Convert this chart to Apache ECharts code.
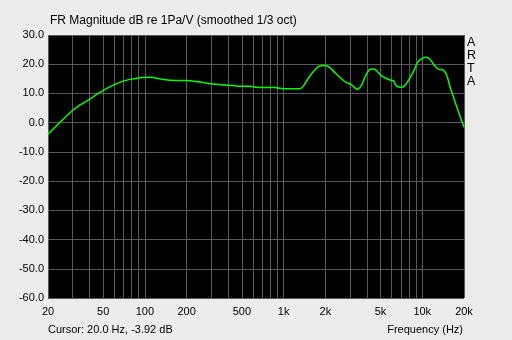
<!DOCTYPE html>
<html><head><meta charset="utf-8">
<script src="https://cdn.jsdelivr.net/npm/echarts@6/dist/echarts.min.js"></script>
<style>html,body{margin:0;padding:0;background:#ececec;}#c{width:512px;height:340px;}</style>
</head><body><div id="c"></div>
<script>
const freqs = [20, 24.4, 29.9, 33.1, 39.1, 46.1, 54.4, 60.9, 70.6, 80, 92, 109, 132, 152, 200, 249, 310, 389, 485, 572, 640, 867, 1024, 1313, 1387, 1507, 1637, 1779, 1990, 2160, 2348, 2773, 3100, 3398, 3660, 3864, 4200, 4485, 5095, 5850, 6200, 6540, 7110, 7720, 8620, 9360, 10470, 11370, 12150, 13060, 14190, 15000, 15850, 16750, 17700, 20000];
const magDb = [-3.92, 0.1, 4.1, 5.7, 7.75, 10.0, 12.0, 13.1, 14.3, 14.9, 15.4, 15.5, 14.9, 14.5, 14.4, 13.9, 13.2, 12.9, 12.5, 12.5, 12.1, 12.0, 11.6, 11.6, 12.5, 15.2, 17.4, 19.2, 19.6, 18.8, 17.1, 14.0, 12.9, 11.4, 12.9, 15.7, 18.3, 18.4, 16.0, 14.6, 14.3, 12.5, 12.1, 13.5, 17.4, 20.9, 22.4, 21.7, 19.7, 18.3, 18.0, 16.3, 12.3, 8.9, 5.5, -1.6];
const gridFreqs = [20,30,40,50,60,70,80,90,100,200,300,400,500,600,700,800,900,1000,2000,3000,4000,5000,6000,7000,8000,9000,10000,20000];
const xLabelFreqs = [20,50,100,200,500,1000,2000,5000,10000,20000];
const yTicks = [-60,-50,-40,-30,-20,-10,0,10,20,30];

const chart = echarts.init(document.getElementById('c'), null, {renderer:'canvas'});
const font = '"Liberation Sans", Arial, sans-serif';
const data = freqs.map((f,i)=>[f, magDb[i]]);
chart.setOption({
  backgroundColor:'#ececec',
  animation:false,
  textStyle:{fontFamily:font},
  title:{text:'FR Magnitude dB re 1Pa/V (smoothed 1/3 oct)', left:45, top:15, padding:[0,0,0,5],
    textStyle:{fontSize:12, fontWeight:'normal', color:'#000', fontFamily:font}},
  graphic:[
    {type:'text', left:467, top:36, style:{text:'A\nR\nT\nA', font:'12.5px '+font, fill:'#000', lineHeight:13, align:'center'}},
    {type:'text', left:48, top:324, style:{text:'Cursor: 20.0 Hz, -3.92 dB', font:'11px '+font, fill:'#000'}},
    {type:'text', right:49, top:324, style:{text:'Frequency (Hz)', font:'11px '+font, fill:'#000'}}
  ],
  grid:{left:48, right:48, top:35, bottom:42, show:true, backgroundColor:'#000', borderWidth:0},
  xAxis:{type:'log', logBase:10, min:20, max:20000,
    axisLine:{show:false},
    axisTick:{show:false, customValues:gridFreqs},
    splitLine:{show:true, lineStyle:{color:'#5a5a5a', width:1}},
    axisLabel:{customValues:xLabelFreqs, color:'#000', fontSize:11, margin:8, fontFamily:font,
      formatter:v=> v>=1000 ? (v/1000)+'k' : String(v)}
  },
  yAxis:{type:'value', min:-60, max:30, interval:10,
    axisLine:{show:false}, axisTick:{show:false},
    splitLine:{show:true, lineStyle:{color:'#5a5a5a', width:1}},
    axisLabel:{color:'#000', fontSize:11, margin:4, fontFamily:font, formatter:v=>v.toFixed(1)}
  },
  series:[{type:'line', data:data, smooth:0.25, showSymbol:false, symbol:'none',
    lineStyle:{color:'#00ff00', width:1.5}, clip:true}]
});
</script></body></html>
